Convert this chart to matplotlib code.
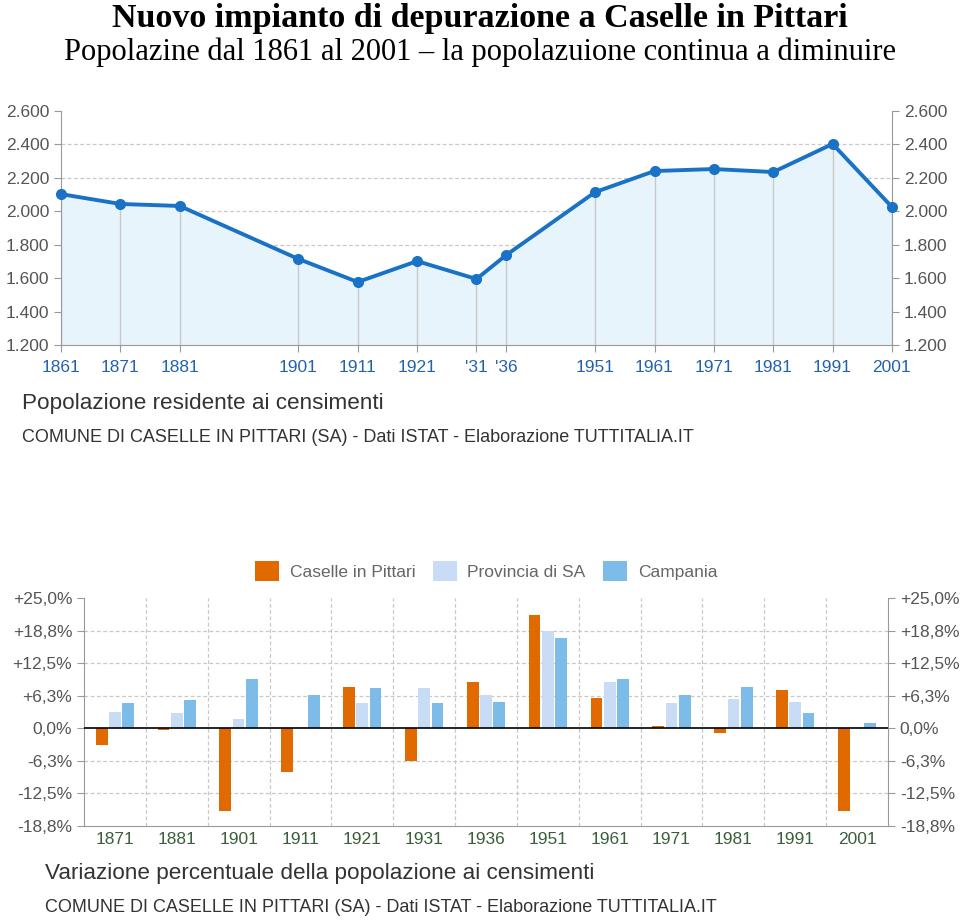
import matplotlib.pyplot as plt

# Popolazione residente ai censimenti
years = [1861, 1871, 1881, 1901, 1911, 1921, 1931, 1936, 1951, 1961, 1971, 1981, 1991, 2001]
year_labels = ["1861", "1871", "1881", "1901", "1911", "1921", "'31", "'36",
               "1951", "1961", "1971", "1981", "1991", "2001"]
population = [2103, 2044, 2032, 1715, 1577, 1702, 1595, 1738, 2115, 2241, 2253, 2235, 2403, 2026]

# Variazione percentuale ai censimenti
var_labels = ["1871", "1881", "1901", "1911", "1921", "1931", "1936",
              "1951", "1961", "1971", "1981", "1991", "2001"]
var_caselle = [-3.2, -0.4, -15.8, -8.3, 7.9, -6.3, 8.8, 21.7, 5.8, 0.4, -1.0, 7.3, -15.8]
var_provincia = [3.2, 2.9, 1.7, 0.2, 4.8, 7.7, 6.4, 18.7, 8.9, 4.8, 5.7, 5.1, 0.3]
var_campania = [4.8, 5.4, 9.5, 6.4, 7.7, 4.8, 5.1, 17.4, 9.4, 6.3, 7.9, 2.9, 1.1]

pct_ticks = [25, 18.75, 12.5, 6.25, 0, -6.25, -12.5, -18.75]
pct_labels = ["+25,0%", "+18,8%", "+12,5%", "+6,3%", "0,0%", "-6,3%", "-12,5%", "-18,8%"]

SANS = ["Liberation Sans", "DejaVu Sans"]
SERIF = ["Liberation Serif", "DejaVu Serif"]
GRID = "#c8c8c8"
AXIS = "#999999"
TICK_TXT = "#555555"

fig = plt.figure(figsize=(9.6, 9.23), dpi=100)

fig.text(0.5, 0.971, "Nuovo impianto di depurazione a Caselle in Pittari",
         ha="center", va="baseline", family=SERIF, fontweight="bold", fontsize=24.5)
fig.text(0.5, 0.935, "Popolazine dal 1861 al 2001 \u2013 la popolazuione continua a diminuire",
         ha="center", va="baseline", family=SERIF, fontsize=22)

# ---- top chart: line ----
ax1 = fig.add_axes([0.0635, 0.6262, 0.8656, 0.2535])
ax1.fill_between(years, 1200, population, color="#e8f4fc", zorder=1)
ax1.vlines(years, 1200, population, color=GRID, lw=1, zorder=2)
ax1.plot(years, population, color="#1a72c6", lw=2.8, marker="o", markersize=7,
         clip_on=False, zorder=4)
ax1.set_xlim(1861, 2001)
ax1.set_ylim(1200, 2600)
yt = list(range(1200, 2601, 200))
ax1.set_yticks(yt)
ax1.set_yticklabels([f"{v:,}".replace(",", ".") for v in yt])
for v in yt[1:-1]:
    ax1.axhline(v, color=GRID, lw=0.9, ls=(0, (3, 2)), zorder=0)
ax1.set_xticks(years)
ax1.set_xticklabels(year_labels)
ax1.tick_params(axis="x", colors=AXIS, labelcolor="#2462ad", labelsize=12.5,
                length=5, pad=6)
ax1.tick_params(axis="y", colors=AXIS, labelcolor=TICK_TXT, labelsize=12.5,
                length=5, left=True, right=True, labelleft=True, labelright=True)
for lab in ax1.get_xticklabels() + ax1.yaxis.get_ticklabels(which="both"):
    lab.set_family(SANS)
ax1.spines["top"].set_visible(False)
for s in ["left", "right", "bottom"]:
    ax1.spines[s].set_color(AXIS)

fig.text(0.023, 0.563, "Popolazione residente ai censimenti", family=SANS,
         fontsize=16.2, color="#333333", va="center")
fig.text(0.023, 0.526, "COMUNE DI CASELLE IN PITTARI (SA) - Dati ISTAT - Elaborazione TUTTITALIA.IT",
         family=SANS, fontsize=13, color="#333333", va="center")

# ---- bottom chart: grouped bars ----
ax2 = fig.add_axes([0.0875, 0.1051, 0.8375, 0.2470])
pos = list(range(len(var_labels)))
w = 0.19
off = 0.215
b1 = ax2.bar([p - off for p in pos], var_caselle, w, color="#e06a00",
             label="Caselle in Pittari", zorder=3)
b2 = ax2.bar(pos, var_provincia, w, color="#c9dcf6", label="Provincia di SA", zorder=3)
b3 = ax2.bar([p + off for p in pos], var_campania, w, color="#7dbbe8",
             label="Campania", zorder=3)
ax2.set_xlim(-0.5, len(var_labels) - 0.5)
ax2.set_ylim(-18.75, 25)
ax2.set_yticks(pct_ticks)
ax2.set_yticklabels(pct_labels)
for v in pct_ticks[1:-1]:
    if v != 0:
        ax2.axhline(v, color=GRID, lw=0.9, ls=(0, (3, 2)), zorder=0)
for p in pos[:-1]:
    ax2.axvline(p + 0.5, color=GRID, lw=0.9, ls=(0, (3, 2)), zorder=0)
ax2.axhline(0, color="black", lw=1.2, zorder=4)
ax2.set_xticks(pos)
ax2.set_xticklabels(var_labels)
ax2.tick_params(axis="x", length=0, labelcolor="#3b5e3b", labelsize=12.5, pad=4)
ax2.tick_params(axis="y", colors=AXIS, labelcolor=TICK_TXT, labelsize=12.5,
                length=5, left=True, right=True, labelleft=True, labelright=True)
for lab in ax2.get_xticklabels() + ax2.yaxis.get_ticklabels(which="both"):
    lab.set_family(SANS)
ax2.spines["top"].set_visible(False)
for s in ["left", "right", "bottom"]:
    ax2.spines[s].set_color(AXIS)

ax2.legend(handles=[b1, b2, b3], ncol=3, loc="lower center",
           bbox_to_anchor=(0.5, 1.005), frameon=False,
           handlelength=1.4, handleheight=1.4, columnspacing=1.0,
           handletextpad=0.6, labelcolor="#666666", prop={"family": SANS, "size": 12.5})

fig.text(0.047, 0.054, "Variazione percentuale della popolazione ai censimenti",
         family=SANS, fontsize=16.2, color="#333333", va="center")
fig.text(0.047, 0.017, "COMUNE DI CASELLE IN PITTARI (SA) - Dati ISTAT - Elaborazione TUTTITALIA.IT",
         family=SANS, fontsize=13, color="#333333", va="center")

fig.savefig("out.png", dpi=100)
